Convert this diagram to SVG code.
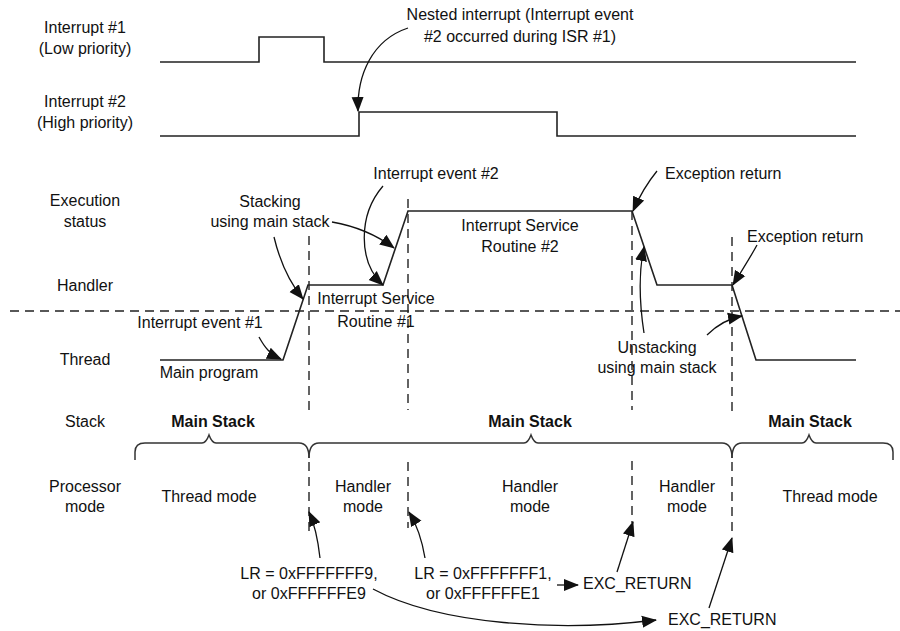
<svg xmlns="http://www.w3.org/2000/svg" width="900" height="631" viewBox="0 0 900 631">
<style>
text{font-family:"Liberation Sans",Arial,sans-serif;font-size:16px;fill:#111}
.m{text-anchor:middle}
.b{font-weight:bold}
.sig{fill:none;stroke:#222;stroke-width:1.6;stroke-linejoin:miter}
.dash{fill:none;stroke:#222;stroke-width:1.4;stroke-dasharray:9,6}
.arr{fill:none;stroke:#111;stroke-width:1.3;marker-end:url(#ah)}
.brace{fill:none;stroke:#333;stroke-width:1.5}
</style>
<defs>
<marker id="ah" markerUnits="userSpaceOnUse" markerWidth="15" markerHeight="14" viewBox="0 0 15 14" refX="14" refY="7" orient="auto">
<path d="M0,1 L15,7 L0,13 Z" fill="#111"/>
</marker>
</defs>
<rect width="900" height="631" fill="#fff"/>

<g id="row-labels">
<text class="m" x="85" y="33">Interrupt #1</text>
<text class="m" x="85" y="54">(Low priority)</text>
<text class="m" x="85" y="107">Interrupt #2</text>
<text class="m" x="85" y="128">(High priority)</text>
<text class="m" x="85" y="206">Execution</text>
<text class="m" x="85" y="227">status</text>
<text class="m" x="85" y="291">Handler</text>
<text class="m" x="85" y="365">Thread</text>
<text class="m" x="85" y="427">Stack</text>
<text class="m" x="85" y="492">Processor</text>
<text class="m" x="85" y="512">mode</text>
</g>

<g id="signals">
<polyline class="sig" points="160,62 259,62 259,37 324,37 324,62 856,62"/>
<polyline class="sig" points="160,136 359,136 359,112 557,112 557,136 856,136"/>
<polyline class="sig" points="160,360 283,360 308,285 383,285 408,211 632,211 657,285 732,285 756,360 856,360"/>
</g>

<g id="dashed-lines">
<line class="dash" x1="10" y1="311" x2="900" y2="311"/>
<line class="dash" x1="309" y1="236" x2="309" y2="410"/>
<line class="dash" x1="408" y1="199" x2="408" y2="410"/>
<line class="dash" x1="632" y1="211" x2="632" y2="410"/>
<line class="dash" x1="732" y1="237" x2="732" y2="412"/>
<line class="dash" x1="309" y1="462" x2="309" y2="533"/>
<line class="dash" x1="408" y1="462" x2="408" y2="528"/>
<line class="dash" x1="632" y1="461" x2="632" y2="523"/>
<line class="dash" x1="732" y1="462" x2="732" y2="535"/>
</g>

<g id="annotations">
<text class="m" x="520" y="20">Nested interrupt (Interrupt event</text>
<text class="m" x="520" y="42">#2 occurred during ISR #1)</text>
<text class="m" x="270" y="207">Stacking</text>
<text class="m" x="270" y="227">using main stack</text>
<text class="m" x="436" y="179">Interrupt event #2</text>
<text x="665" y="179">Exception return</text>
<text class="m" x="520" y="231">Interrupt Service</text>
<text class="m" x="520" y="252">Routine #2</text>
<text x="747" y="242">Exception return</text>
<text class="m" x="376" y="304">Interrupt Service</text>
<text class="m" x="376" y="327">Routine #1</text>
<text class="m" x="200" y="328">Interrupt event #1</text>
<text class="m" x="657" y="353">Unstacking</text>
<text class="m" x="657" y="373">using main stack</text>
<text class="m" x="209" y="378">Main program</text>
</g>

<g id="stack-braces">
<path class="brace" d="M135,460 L135,452 Q135,443 145,443 L202,443 Q206,443 209,435 Q212,443 216,443 L299,443 Q309,443 309,458"/>
<path class="brace" d="M309,458 Q309,443 319,443 L524,443 Q528,443 531,435 Q534,443 538,443 L722,443 Q732,443 732,458"/>
<path class="brace" d="M732,458 Q732,443 742,443 L802,443 Q806,443 809,435 Q812,443 816,443 L883,443 Q893,443 893,452 L893,460"/>
<text class="m b" x="213" y="427">Main Stack</text>
<text class="m b" x="530" y="427">Main Stack</text>
<text class="m b" x="810" y="427">Main Stack</text>
</g>

<g id="modes">
<text class="m" x="209" y="502">Thread mode</text>
<text class="m" x="363" y="492">Handler</text>
<text class="m" x="363" y="512">mode</text>
<text class="m" x="530" y="492">Handler</text>
<text class="m" x="530" y="512">mode</text>
<text class="m" x="687" y="492">Handler</text>
<text class="m" x="687" y="512">mode</text>
<text class="m" x="830" y="502">Thread mode</text>
</g>

<g id="lr-values">
<text class="m" x="309" y="579">LR = 0xFFFFFFF9,</text>
<text class="m" x="309" y="599">or 0xFFFFFFE9</text>
<text class="m" x="483" y="579">LR = 0xFFFFFFF1,</text>
<text class="m" x="483" y="599">or 0xFFFFFFE1</text>
<text x="583" y="589">EXC_RETURN</text>
<text x="668" y="625">EXC_RETURN</text>
</g>

<g id="connectors">
<path class="arr" d="M408,28 C372,40 357,75 358,111"/>
<path class="arr" d="M274,237 C280,262 290,283 303,299"/>
<path class="arr" d="M332,222 C355,226 378,236 394,248"/>
<path class="arr" d="M383,186 C358,215 358,262 383,285"/>
<path class="arr" d="M259,337 C265,348 270,354 281,359"/>
<path class="arr" d="M657,171 C648,182 640,195 633,211"/>
<path class="arr" d="M757,245 C750,258 742,270 733,285"/>
<path class="arr" d="M644,333 C639,300 639,270 644,247"/>
<path class="arr" d="M707,335 C716,326 726,319 742,316"/>
<path class="arr" d="M320,558 C318,540 315,525 309,512"/>
<path class="arr" d="M425,558 C422,540 417,525 409,512"/>
<path class="arr" d="M373,589 C440,625 560,632 656,620"/>
<path class="arr" d="M557,585 L578,585"/>
<path class="arr" d="M617,572 L633,522"/>
<path class="arr" d="M709,608 L732,538"/>
</g>
</svg>
